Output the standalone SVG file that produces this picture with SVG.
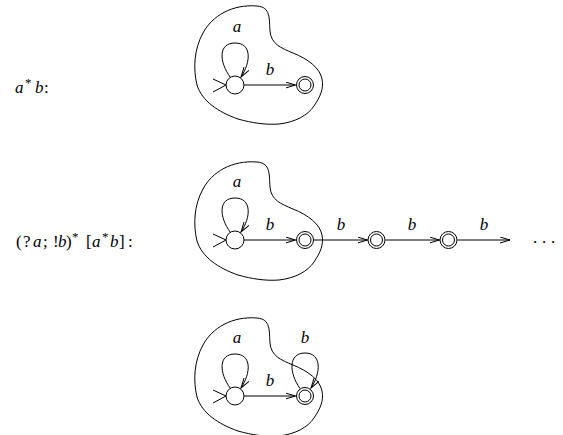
<svg xmlns="http://www.w3.org/2000/svg" xmlns:xlink="http://www.w3.org/1999/xlink" width="563" height="435" viewBox="0 0 563 435">
<style>
  .ln{fill:none;stroke:#000;stroke-width:1}
  .st{fill:#fff;stroke:#000;stroke-width:1}
  .m{font-family:"Liberation Serif","DejaVu Serif",serif;font-size:17px;font-style:italic;fill:#000}
  .u{font-family:"Liberation Serif","DejaVu Serif",serif;font-size:17px;fill:#000}
  .sup{font-family:"Liberation Serif","DejaVu Serif",serif;font-size:13px;fill:#000}
  .lbl{text-anchor:middle}
</style>
<defs>
  <marker id="arr" markerUnits="userSpaceOnUse" markerWidth="12" markerHeight="8" refX="10" refY="3.5" orient="auto">
    <path d="M0,0.5 L10,3.5 L0,6.5" fill="none" stroke="#000" stroke-width="1"/>
  </marker>
  <path id="blob" d="M 270,31 C 269,19 271,7 257,6 C 232,4 212,16 203,33 C 194,49 193,69 197,85 C 202,101 218,112 238,119 C 252,123 266,125 279,124 C 296,122 308,115 314,106 C 320,97 324,89 322,79 C 320,68 308,59 293,53 C 281,48 271,44 270,31 Z"/>
</defs>

<!-- formulas -->
<g id="formula1">
  <text class="m" x="15" y="93">a</text>
  <text class="sup" x="25" y="87">*</text>
  <text class="m" x="35" y="93">b</text>
  <text class="u" x="44" y="93">:</text>
</g>
<g id="formula2">
  <text class="u" x="16" y="247">(</text>
  <text class="u" x="23" y="247">?</text>
  <text class="m" x="33" y="247">a</text>
  <text class="u" x="43" y="247">;</text>
  <text class="u" x="53" y="247">!</text>
  <text class="m" x="58" y="247">b</text>
  <text class="u" x="66" y="247">)</text>
  <text class="sup" x="72" y="241">*</text>
  <text class="u" x="86" y="247">[</text>
  <text class="m" x="92" y="247">a</text>
  <text class="sup" x="102" y="241">*</text>
  <text class="m" x="110" y="247">b</text>
  <text class="u" x="119" y="247">]</text>
  <text class="u" x="128" y="247">:</text>
</g>

<!-- regions -->
<g id="regions" class="ln">
  <use xlink:href="#blob" href="#blob"/>
  <use xlink:href="#blob" href="#blob" transform="translate(0,156)"/>
  <use xlink:href="#blob" href="#blob" transform="translate(0,312)"/>
</g>

<!-- connectors -->
<g id="connectors" class="ln">
  <!-- top -->
  <path d="M 230.5,77.5 C 219,62 218,43 235,43 C 252,43 251,62 241,77" marker-end="url(#arr)"/>
  <line x1="244" y1="85" x2="295.5" y2="85" marker-end="url(#arr)"/>
  <!-- middle -->
  <path d="M 230.5,232.5 C 219,217 218,198 235,198 C 252,198 251,217 241,232" marker-end="url(#arr)"/>
  <line x1="244" y1="240" x2="295.5" y2="240" marker-end="url(#arr)"/>
  <line x1="313.5" y1="240" x2="367.5" y2="240" marker-end="url(#arr)"/>
  <line x1="385.5" y1="240" x2="439.5" y2="240" marker-end="url(#arr)"/>
  <line x1="457.5" y1="240" x2="510" y2="240" marker-end="url(#arr)"/>
  <!-- bottom -->
  <path d="M 230.5,388.5 C 219,373 218,354 235,354 C 252,354 251,373 241,388" marker-end="url(#arr)"/>
  <line x1="244" y1="396" x2="295.5" y2="396" marker-end="url(#arr)"/>
  <path d="M 300,388.5 C 289,373 288,353 305,353 C 322,353 321,373 311,388" marker-end="url(#arr)"/>
</g>

<!-- edge labels -->
<g id="labels">
  <text class="m lbl" x="237" y="32">a</text>
  <text class="m lbl" x="270" y="75">b</text>
  <text class="m lbl" x="237" y="187">a</text>
  <text class="m lbl" x="270" y="230">b</text>
  <text class="m lbl" x="341" y="230">b</text>
  <text class="m lbl" x="412" y="230">b</text>
  <text class="m lbl" x="484" y="230">b</text>
  <text class="u" x="533" y="243">.</text>
  <text class="u" x="542" y="243">.</text>
  <text class="u" x="551" y="243">.</text>
  <text class="m lbl" x="237" y="343">a</text>
  <text class="m lbl" x="270" y="386">b</text>
  <text class="m lbl" x="305" y="343">b</text>
</g>

<!-- nodes: top -->
<g id="q0-top">
  <path class="ln" d="M 213,79 L 226,85 L 213,92"/>
  <circle class="st" cx="235" cy="85" r="9"/>
</g>
<g id="q1-top">
  <circle class="st" cx="305" cy="85" r="8.5"/>
  <circle class="ln" cx="305" cy="85" r="6"/>
</g>
<!-- nodes: middle -->
<g id="q0-mid">
  <path class="ln" d="M 213,234 L 226,240 L 213,247"/>
  <circle class="st" cx="235" cy="240" r="9"/>
</g>
<g id="q1-mid">
  <circle class="st" cx="305" cy="240" r="8.5"/>
  <circle class="ln" cx="305" cy="240" r="6"/>
</g>
<g id="q2-mid">
  <circle class="st" cx="376.5" cy="240" r="8.5"/>
  <circle class="ln" cx="376.5" cy="240" r="6"/>
</g>
<g id="q3-mid">
  <circle class="st" cx="448.5" cy="240" r="8.5"/>
  <circle class="ln" cx="448.5" cy="240" r="6"/>
</g>
<!-- nodes: bottom -->
<g id="q0-bot">
  <path class="ln" d="M 213,390 L 226,396 L 213,403"/>
  <circle class="st" cx="235" cy="396" r="9"/>
</g>
<g id="q1-bot">
  <circle class="st" cx="305" cy="396" r="8.5"/>
  <circle class="ln" cx="305" cy="396" r="6"/>
</g>
</svg>
